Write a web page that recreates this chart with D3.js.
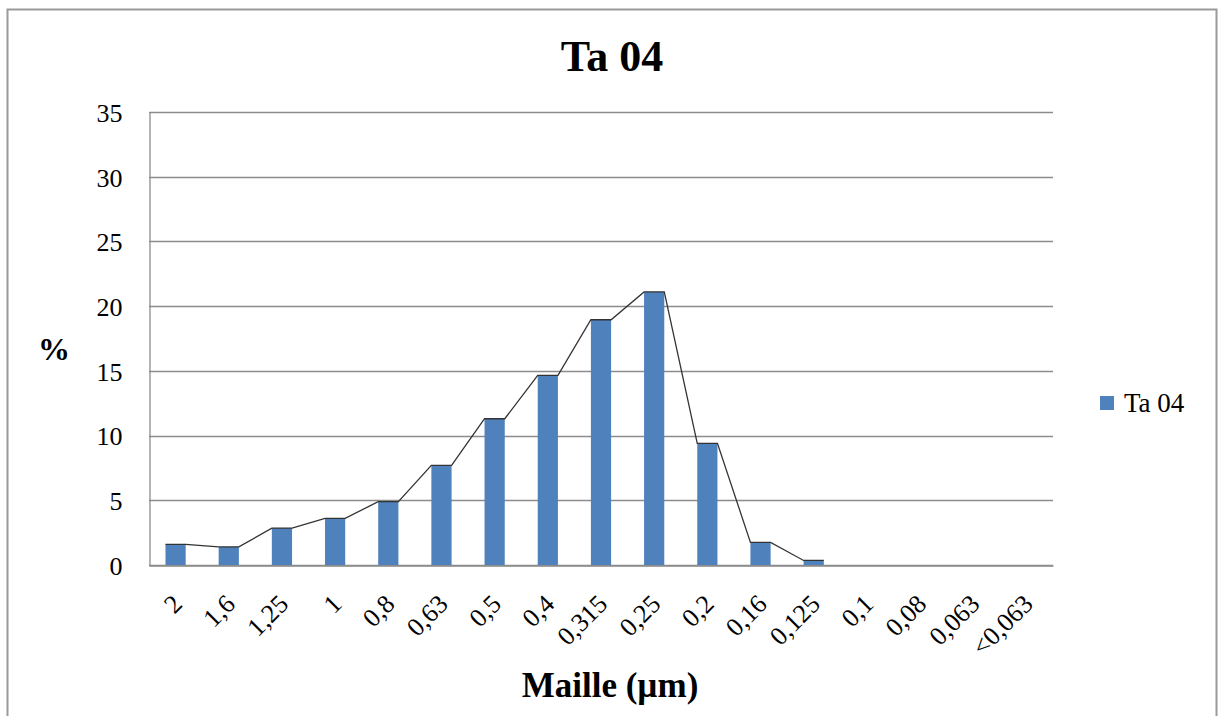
<!DOCTYPE html>
<html>
<head>
<meta charset="utf-8">
<script src="https://cdn.jsdelivr.net/npm/d3@7"></script>
<style>
  html, body { margin: 0; padding: 0; background: #fff; }
  svg { display: block; }
  text { font-family: "Liberation Serif", "Times New Roman", serif; fill: #000; }
</style>
</head>
<body>
<svg id="chart" width="1218" height="716"></svg>
<script>
// Sieve sizes (mesh, µm) and the share of the sample retained on each
const categories = ["2", "1,6", "1,25", "1", "0,8", "0,63", "0,5", "0,4", "0,315",
                    "0,25", "0,2", "0,16", "0,125", "0,1", "0,08", "0,063", "<0,063"];
const values = [1.6, 1.4, 2.85, 3.6, 4.9, 7.7, 11.3, 14.65, 18.95,
                21.1, 9.4, 1.75, 0.35, 0, 0, 0, 0];
const yTicks = [0, 5, 10, 15, 20, 25, 30, 35];
const seriesName = "Ta 04";
const chartTitle = "Ta 04";
const xTitle = "Maille (µm)";
const yTitle = "%";

const svg = d3.select("#chart");
const plot = { left: 149, right: 1053, top: 112, bottom: 565 };

// Outer frame (left, top and right edges)
svg.append("path")
  .attr("d", "M7.5,716 V9.5 H1216.5 V716")
  .attr("fill", "none").attr("stroke", "#9a9a9a").attr("stroke-width", 2);

const x = d3.scaleBand()
  .domain(categories)
  .range([plot.left, plot.right])
  .paddingInner(0.62)
  .paddingOuter(0.31);

const y = d3.scaleLinear().domain([0, 35]).range([plot.bottom, plot.top]);

// Horizontal gridlines
svg.append("g")
  .selectAll("line")
  .data(yTicks)
  .join("line")
  .attr("x1", plot.left).attr("x2", plot.right)
  .attr("y1", d => Math.round(y(d)) + 0.5).attr("y2", d => Math.round(y(d)) + 0.5)
  .attr("stroke", "#8c8c8c").attr("stroke-width", 1.3);

// Y axis
const yAxis = d3.axisLeft(y).tickValues(yTicks).tickSize(0).tickPadding(27);
const gy = svg.append("g").attr("transform", `translate(${plot.left + 0.5},0)`).call(yAxis);
gy.select(".domain").attr("stroke", "#8c8c8c").attr("stroke-width", 1.3);
gy.selectAll("text")
  .attr("font-size", 26).attr("dy", "0.36em");

// Bars
svg.append("g")
  .selectAll("rect")
  .data(values)
  .join("rect")
  .attr("x", (d, i) => x(categories[i]))
  .attr("width", x.bandwidth())
  .attr("y", d => y(d))
  .attr("height", d => y(0) - y(d))
  .attr("fill", "#4f81bd");

// Outline across the bar tops: left and right corner of each bar
const pts = [];
values.forEach((v, i) => {
  if (v > 0) {
    pts.push([x(categories[i]), y(v)]);
    pts.push([x(categories[i]) + x.bandwidth(), y(v)]);
  }
});
svg.append("path")
  .attr("d", d3.line()(pts))
  .attr("fill", "none").attr("stroke", "#333").attr("stroke-width", 1.3);

// X axis
const xAxis = d3.axisBottom(x).tickSize(0).tickFormat(d => d);
const gx = svg.append("g").attr("transform", `translate(0,${Math.round(plot.bottom) + 0.5})`).call(xAxis);
gx.select(".domain").attr("stroke", "#8c8c8c").attr("stroke-width", 1.3);
gx.selectAll("text")
  .attr("font-size", 26)
  .attr("text-anchor", "end")
  .attr("y", 0).attr("dy", 0)
  .attr("transform", "translate(8,40) rotate(-45)");

// Titles
svg.append("text")
  .attr("x", 612).attr("y", 71)
  .attr("text-anchor", "middle")
  .attr("font-size", 44).attr("font-weight", "bold")
  .text(chartTitle);

svg.append("text")
  .attr("x", 610).attr("y", 697)
  .attr("text-anchor", "middle")
  .attr("font-size", 35).attr("font-weight", "bold")
  .text(xTitle);

svg.append("text")
  .attr("x", 54).attr("y", 360)
  .attr("text-anchor", "middle")
  .attr("font-size", 32).attr("font-weight", "bold")
  .text(yTitle);

// Legend
const legend = svg.append("g").attr("transform", "translate(1100,396)");
legend.append("rect").attr("width", 14).attr("height", 14).attr("fill", "#4f81bd");
legend.append("text").attr("x", 24).attr("y", 16).attr("font-size", 27).text(seriesName);
</script>
</body>
</html>
